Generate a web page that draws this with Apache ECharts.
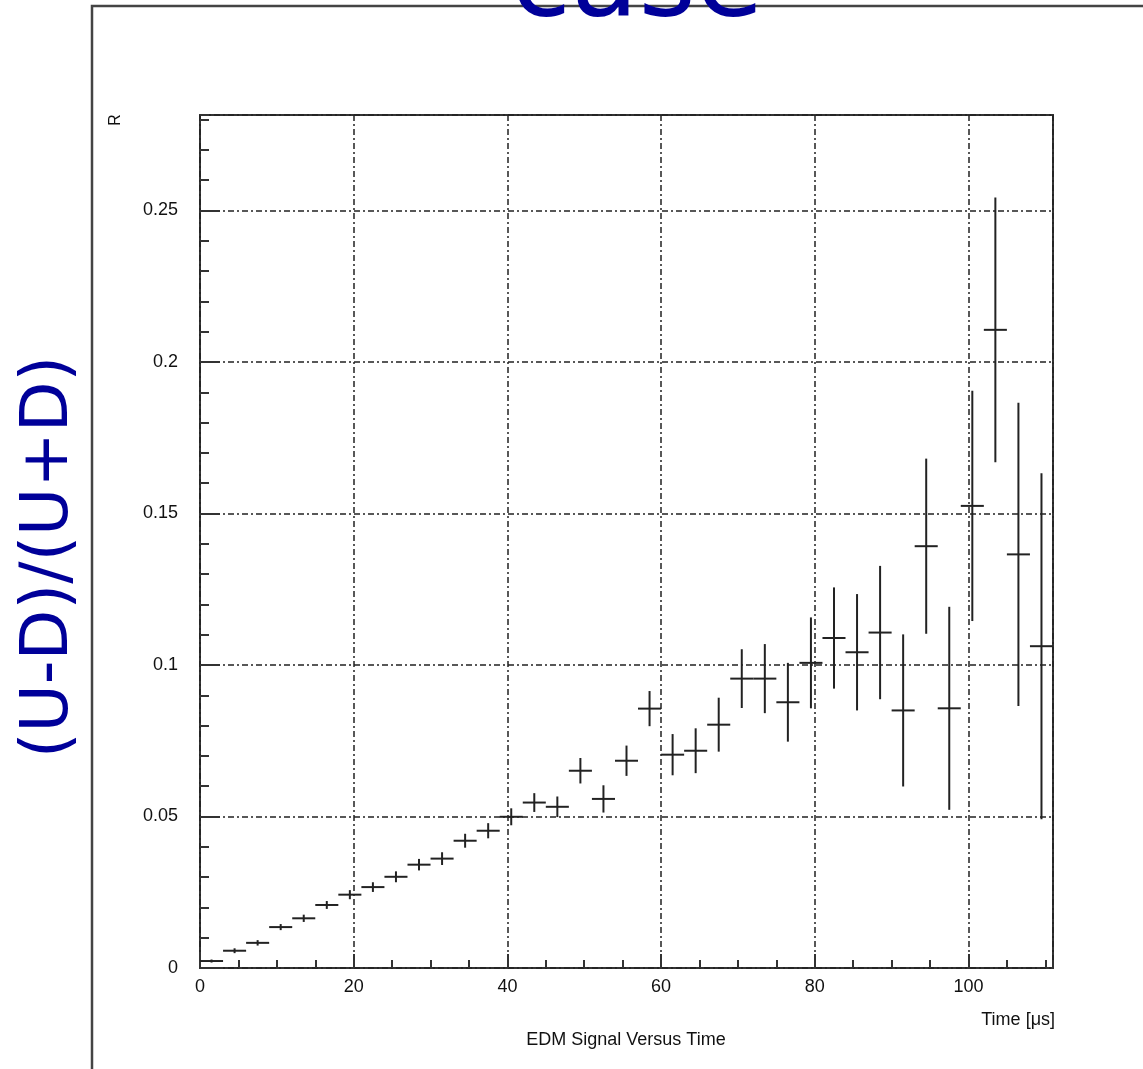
<!DOCTYPE html>
<html>
<head>
<meta charset="utf-8">
<script src="https://cdn.jsdelivr.net/npm/echarts@6/dist/echarts.min.js"></script>
<style>
html,body{margin:0;padding:0;background:#fff;}
#chart{width:1143px;height:1069px;}
</style>
</head>
<body>
<div id="chart"></div>
<script>
// ---- data ----
const timeCenters = [1.5, 4.5, 7.5, 10.5, 13.5, 16.5, 19.5, 22.5, 25.5, 28.5,
  31.5, 34.5, 37.5, 40.5, 43.5, 46.5, 49.5, 52.5, 55.5, 58.5,
  61.5, 64.5, 67.5, 70.5, 73.5, 76.5, 79.5, 82.5, 85.5, 88.5,
  91.5, 94.5, 97.5, 100.5, 103.5, 106.5, 109.5];
const binHalfWidth = 1.5;
const ratio = [0.0023, 0.0057, 0.0083, 0.0135, 0.0164, 0.0208, 0.0242, 0.0267, 0.0301, 0.0341,
  0.0361, 0.0420, 0.0453, 0.0499, 0.0546, 0.0532, 0.0651, 0.0558, 0.0684, 0.0856,
  0.0704, 0.0717, 0.0803, 0.0955, 0.0955, 0.0877, 0.1007, 0.1089, 0.1042, 0.1107,
  0.0850, 0.1392, 0.0857, 0.1525, 0.2106, 0.1365, 0.1062];
const ratioError = [0.0005, 0.0008, 0.0009, 0.0010, 0.0012, 0.0013, 0.0015, 0.0016, 0.0018, 0.0019,
  0.0021, 0.0023, 0.0025, 0.0028, 0.0031, 0.0034, 0.0042, 0.0045, 0.0050, 0.0058,
  0.0068, 0.0074, 0.0089, 0.0097, 0.0114, 0.0130, 0.0150, 0.0167, 0.0192, 0.0220,
  0.0251, 0.0289, 0.0335, 0.0380, 0.0437, 0.0500, 0.0571];
const xMin = 0, xMax = 111, xMajor = 20, xMinor = 5;
const yMin = 0, yMax = 0.2815, yMajor = 0.05, yMinor = 0.01;
const titleText = 'case';
const yTitle = '(U-D)/(U+D)';
const xTitle = 'Time [\u03bcs]';
const histTitle = 'EDM Signal Versus Time';
const yAxisShort = 'R';

const points = timeCenters.map((t, i) => [t, ratio[i], ratioError[i]]);

const chart = echarts.init(document.getElementById('chart'), null, {renderer: 'canvas'});
const tickFont = {fontFamily: 'Liberation Sans, Arial, sans-serif', fontSize: 18, color: '#111'};
const gridDash = {color: '#222', width: 1.5, type: [6, 3, 2, 3]};

chart.setOption({
  animation: false,
  backgroundColor: '#fff',
  grid: {left: 200, top: 115, width: 853, height: 853, show: true,
         borderColor: '#333', borderWidth: 2, backgroundColor: 'transparent', containLabel: false},
  xAxis: [
    {type: 'value', min: xMin, max: xMax, interval: xMajor, position: 'bottom',
     axisLine: {show: false},
     axisTick: {show: true, inside: true, length: 14, lineStyle: {color: '#333', width: 2}},
     axisLabel: Object.assign({margin: 10, showMaxLabel: false}, tickFont),
     splitLine: {show: true, lineStyle: gridDash}},
    {type: 'value', min: xMin, max: xMax, interval: xMinor, position: 'bottom',
     axisLine: {show: false},
     axisTick: {show: true, inside: true, length: 8, lineStyle: {color: '#333', width: 2}},
     axisLabel: {show: false}, splitLine: {show: false}}
  ],
  yAxis: [
    {type: 'value', min: yMin, max: yMax, interval: yMajor, position: 'left',
     axisLine: {show: false},
     axisTick: {show: true, inside: true, length: 20, lineStyle: {color: '#333', width: 2}},
     axisLabel: Object.assign({margin: 22, showMaxLabel: false}, tickFont),
     splitLine: {show: true, lineStyle: gridDash}},
    {type: 'value', min: yMin, max: yMax, interval: yMinor, position: 'left',
     axisLine: {show: false},
     axisTick: {show: true, inside: true, length: 9, lineStyle: {color: '#333', width: 2}},
     axisLabel: {show: false}, splitLine: {show: false}}
  ],
  series: [{
    type: 'custom',
    xAxisIndex: 0, yAxisIndex: 0,
    data: points,
    clip: true,
    renderItem: function (params, api) {
      const x = api.value(0), y = api.value(1), e = api.value(2);
      const l = api.coord([x - binHalfWidth, y]);
      const r = api.coord([x + binHalfWidth, y]);
      const t = api.coord([x, y + e]);
      const b = api.coord([x, y - e]);
      const st = {stroke: '#222', lineWidth: 2, fill: null};
      return {type: 'group', children: [
        {type: 'line', shape: {x1: l[0], y1: l[1], x2: r[0], y2: r[1]}, style: st},
        {type: 'line', shape: {x1: t[0], y1: t[1], x2: b[0], y2: b[1]}, style: st}
      ]};
    }
  }],
  graphic: [
    {type: 'rect', z: 1, shape: {x: 92, y: 6, width: 1300, height: 1300},
     style: {fill: null, stroke: '#444', lineWidth: 2.5}},
    {type: 'text', z: 10, x: 637, y: -14,
     style: {text: titleText, fontFamily: 'DejaVu Sans, sans-serif', fontSize: 110,
             fill: '#000099', textAlign: 'center', textVerticalAlign: 'middle'}},
    {type: 'text', z: 10, x: 50, y: 557, rotation: Math.PI / 2,
     style: {text: yTitle, fontFamily: 'DejaVu Sans, sans-serif', fontSize: 66,
             fill: '#000099', textAlign: 'center', textVerticalAlign: 'middle'}},
    {type: 'text', z: 10, x: 116, y: 120, rotation: Math.PI / 2,
     style: {text: yAxisShort, fontFamily: 'Liberation Sans, sans-serif', fontSize: 16,
             fill: '#111', textAlign: 'center', textVerticalAlign: 'middle'}},
    {type: 'text', z: 10, x: 1055, y: 1020,
     style: {text: xTitle, fontFamily: 'Liberation Sans, sans-serif', fontSize: 18,
             fill: '#111', textAlign: 'right', textVerticalAlign: 'middle'}},
    {type: 'text', z: 10, x: 626, y: 1040,
     style: {text: histTitle, fontFamily: 'Liberation Sans, sans-serif', fontSize: 18,
             fill: '#111', textAlign: 'center', textVerticalAlign: 'middle'}}
  ]
});
</script>
</body>
</html>
